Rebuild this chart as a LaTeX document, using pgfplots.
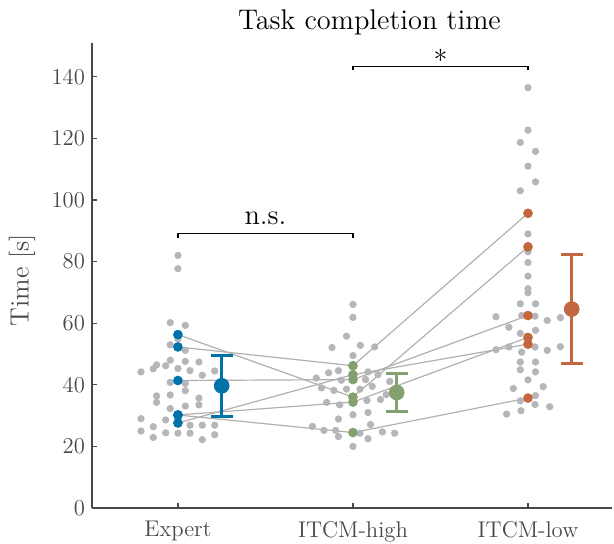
\documentclass[border=0pt]{standalone}
\usepackage{pgfplots}
\usepackage{pgfplotstable}
\pgfplotsset{compat=1.18}
\definecolor{cexp}{RGB}{0,114,170}
\definecolor{chigh}{RGB}{132,160,110}
\definecolor{clow}{RGB}{196,102,64}
\definecolor{dotgray}{RGB}{182,182,186}
\definecolor{linegray}{RGB}{176,176,176}
\definecolor{axgray}{RGB}{72,72,72}
\newcommand{\tickfont}{\fontsize{11.35}{13}\selectfont}
\newcommand{\labfont}{\fontsize{13.2}{15}\selectfont}
\newcommand{\bigfont}{\fontsize{14.2}{17}\selectfont}

% all single trials (grey swarm)
\pgfplotstableread{
x y
1.000 82.0
1.000 77.7
0.956 60.2
1.042 59.3
1.000 54.9
0.956 53.0
1.042 51.2
0.956 48.0
1.042 47.6
1.120 47.4
0.878 46.5
0.930 46.2
1.000 45.3
0.859 45.2
1.069 44.6
1.210 44.5
0.789 44.2
1.139 43.1
0.956 40.8
1.042 40.4
1.042 38.1
0.956 36.7
0.878 36.4
1.120 35.7
0.878 34.3
1.120 33.5
1.042 33.1
0.956 32.3
0.789 29.0
0.930 28.6
1.069 26.9
1.139 26.9
1.210 26.9
0.859 26.4
0.789 25.0
0.930 24.4
1.000 24.3
1.069 24.3
1.210 23.8
0.859 22.9
1.139 22.2
2.000 66.1
2.000 61.9
1.963 55.8
1.880 52.1
2.042 52.8
2.124 52.3
2.000 49.5
1.790 42.2
1.861 43.9
1.917 44.6
2.086 44.2
2.143 43.3
1.934 41.5
2.072 41.7
2.210 41.1
1.820 39.0
1.891 38.2
1.963 38.6
2.040 38.6
2.110 39.5
1.850 34.3
1.924 33.5
2.080 34.9
2.157 35.2
2.190 36.8
2.000 30.3
2.086 31.0
1.917 28.9
2.100 27.1
1.768 26.5
1.834 25.2
1.901 25.2
1.917 23.2
2.040 24.3
2.168 24.7
2.238 24.3
2.086 22.5
2.000 20.0
3.000 136.5
3.000 122.7
2.956 118.7
3.043 115.8
3.000 111.0
3.043 105.9
2.956 103.0
3.000 89.0
3.000 83.2
3.000 79.7
3.000 75.3
3.000 71.2
3.000 69.9
2.956 66.3
3.043 66.3
2.817 62.1
2.964 62.5
3.040 62.3
3.110 60.9
3.185 61.8
2.891 58.7
2.956 56.7
3.043 57.7
2.817 51.4
2.891 52.3
2.964 50.6
3.040 52.3
3.110 51.2
3.185 52.4
2.956 47.4
3.043 47.4
2.956 44.9
3.043 44.2
3.000 41.6
2.916 38.8
3.087 39.4
2.956 34.8
3.043 36.5
3.040 33.6
3.124 32.9
2.960 31.6
2.878 30.5
}\trials

% per-subject means: expert, itcm-high, itcm-low
\pgfplotstableread{
s exp high low
1 56.3 36.0 84.8
2 52.3 46.2 95.7
3 41.4 41.7 62.5
4 27.6 43.3 53.2
5 30.2 34.4 55.4
6 30.2 24.5 35.7
}\subj

\begin{document}
\begin{tikzpicture}
\path[use as bounding box] (-46pt,-18pt) rectangle (261pt,254pt);
\begin{axis}[
    scale only axis, width=260pt, height=232.5pt,
    at={(0pt,0pt)}, anchor=south west,
    xmin=0.509, xmax=3.48, ymin=0, ymax=151,
    axis x line=bottom, axis y line=left,
    axis line style={-, axgray, line width=0.6pt},
    tick align=inside, major tick length=2.5pt,
    tick style={axgray, line width=0.6pt},
    xtick={1,2,3}, xticklabels={Expert,ITCM-high,ITCM-low},
    ytick={0,20,...,140},
    /pgf/number format/assume math mode=true,
    ticklabel style={font=\tickfont, text=axgray},
    xticklabel style={yshift=-3pt},
    ylabel={Time [s]},
    ylabel style={font=\labfont, text=axgray, at={(axis description cs:-0.1221,0.49)}, anchor=base},
    clip=false,
]
% grey swarm
\addplot[only marks, mark=*, mark size=1.6pt, color=dotgray] table[x=x, y=y] {\trials};
% subject lines
\pgfplotsforeachungrouped \r in {0,...,5}{
  \pgfplotstablegetelem{\r}{exp}\of\subj \let\ya\pgfplotsretval
  \pgfplotstablegetelem{\r}{high}\of\subj \let\yb\pgfplotsretval
  \pgfplotstablegetelem{\r}{low}\of\subj \let\yc\pgfplotsretval
  \edef\tmp{\noexpand\addplot[linegray, line width=0.6pt, forget plot] coordinates {(1,\ya) (2,\yb) (3,\yc)};}
  \tmp
}
% subject points
\addplot[only marks, mark=*, mark size=2.2pt, color=cexp] table[x expr=1, y=exp] {\subj};
\addplot[only marks, mark=*, mark size=2.2pt, color=chigh] table[x expr=2, y=high] {\subj};
\addplot[only marks, mark=*, mark size=2.2pt, color=clow] table[x expr=3, y=low] {\subj};
% means with error bars
\addplot[only marks, mark=*, mark size=3.7pt, color=cexp,
  error bars/.cd, y dir=both, y explicit,
  error bar style={line width=1.3pt, cexp},
  error mark options={line width=1.3pt, mark size=5.5pt, cexp, rotate=90}]
  coordinates {(1.25,39.67) +- (0,9.9)};
\addplot[only marks, mark=*, mark size=3.7pt, color=chigh,
  error bars/.cd, y dir=both, y explicit,
  error bar style={line width=1.3pt, chigh},
  error mark options={line width=1.3pt, mark size=5.5pt, chigh, rotate=90}]
  coordinates {(2.25,37.5) +- (0,6.15)};
\addplot[only marks, mark=*, mark size=3.7pt, color=clow,
  error bars/.cd, y dir=both, y explicit,
  error bar style={line width=1.3pt, clow},
  error mark options={line width=1.3pt, mark size=5.5pt, clow, rotate=90}]
  coordinates {(3.25,64.6) +- (0,17.75)};
% significance brackets
\addplot[black, line width=0.6pt] coordinates {(1,87.8) (1,89.1) (2,89.1) (2,87.8)};
\addplot[black, line width=0.6pt] coordinates {(2,142.1) (2,143.4) (3,143.4) (3,142.1)};
\node[font=\bigfont, anchor=base] at (axis cs:1.5,92.2) {n.s.};
\node[font=\bigfont, anchor=base] at (axis cs:2.5,142.0) {*};
\node[font=\bigfont, anchor=base] at (axis cs:2.094,155.4) {Task completion time};
\end{axis}
\end{tikzpicture}
\end{document}
